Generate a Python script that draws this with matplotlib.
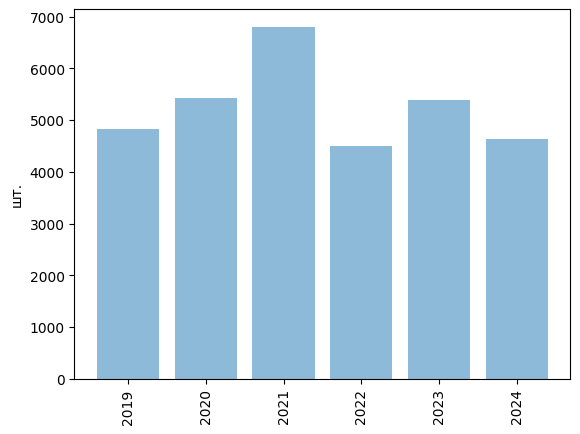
import matplotlib
matplotlib.use("Agg")
import matplotlib.pyplot as plt

years = ["2019", "2020", "2021", "2022", "2023", "2024"]
values = [4830, 5430, 6800, 4500, 5390, 4640]

fig, ax = plt.subplots(figsize=(6.4, 4.8), dpi=100)
ax.bar(years, values, alpha=0.5)
ax.set_ylabel("шт.")
plt.xticks(rotation=90)
fig.savefig("out.png", bbox_inches="tight")
